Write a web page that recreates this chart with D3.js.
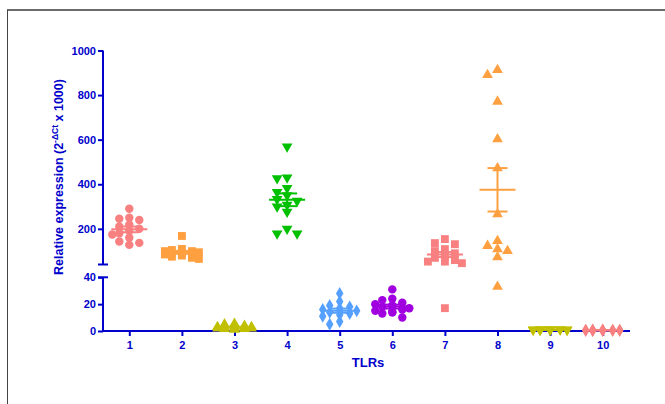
<!DOCTYPE html>
<html>
<head>
<meta charset="utf-8">
<script src="https://cdn.jsdelivr.net/npm/d3@7"></script>
<style>
  body { margin: 0; background: #fff; }
  text { font-family: Arial, "Liberation Sans", sans-serif; font-weight: bold; }
</style>
</head>
<body>
<script>
(function () {
  const groups = ['1', '2', '3', '4', '5', '6', '7', '8', '9', '10']
  const colors = ['#f88080', '#ffa040', '#c0c000', '#00c000', '#55a0ff',
                  '#a000e0', '#f88080', '#ffa040', '#c0c000', '#f88080']
  const shapes = ['circle', 'square', 'triangle', 'down', 'diamond',
                  'circle', 'square', 'triangle', 'down', 'diamond']

  const tlr1 = [290, 250, 240, 245, 218, 210, 200, 190, 180, 160, 143, 128, 137, 175]
  const tlr2 = [168, 110, 105, 100, 95, 92, 90, 88, 85, 80, 75, 70, 100, 65]
  const tlr3 = [5, 5.5, 3, 2, 2.5, 1.5, 1, 2, 3, 1.5, 2, 4, 2.5, 3]
  const tlr4 = [569, 427, 430, 365, 383, 333, 308, 276, 200, 179, 179, 325, 300, 350]
  const tlr5 = [28, 22, 19, 15, 14, 15, 11, 7, 5, 17, 13, 12, 18, 16]
  const tlr6 = [31, 24, 23, 21, 20, 19, 18, 17, 16, 15, 14, 14, 10, 13]
  const tlr7 = [136, 154, 131, 109, 100, 90, 80, 70, 60, 53, 46, 53, 17]
  const tlr8 = [913, 890, 771, 602, 472, 266, 146, 124, 109, 101, 73, 33]
  const tlr9 = [1, 1.2, 0.8, 1, 1.1, 0.9, 1, 1.3, 0.7, 1, 1.2, 0.8]
  const tlr10 = [0.6, 0.5, 0.7, 0.5, 0.6, 0.4, 0.5, 0.7, 0.6, 0.5, 0.4, 0.6]
  const series = [tlr1, tlr2, tlr3, tlr4, tlr5, tlr6, tlr7, tlr8, tlr9, tlr10]

  const upperTicks = [200, 400, 600, 800, 1000]
  const lowerTicks = [0, 20, 40]

  const blue = '#0000cc'
  const svg = d3.select('body').append('svg')
                .attr('width', 665)
                .attr('height', 404)

  // frame
  svg.append('line').attr('x1', 7).attr('y1', 10).attr('x2', 665).attr('y2', 10)
     .attr('stroke', '#6b6b6b').attr('stroke-width', 2)
  svg.append('line').attr('x1', 7.5).attr('y1', 10).attr('x2', 7.5).attr('y2', 404)
     .attr('stroke', '#444').attr('stroke-width', 1)

  const x = d3.scaleLinear().domain([0.5, 10.5]).range([103, 629])
  const yUp = d3.scaleLinear().domain([40, 1000]).range([264.5, 50.5])
  const yLo = d3.scaleLinear().domain([0, 40]).range([331, 277.3])
  const yOf = v => v >= 40 ? yUp(v) : yLo(v)

  // axes
  const axUp = svg.append('g').attr('transform', 'translate(103,0)')
                  .call(d3.axisLeft(yUp).tickValues(upperTicks).tickSize(5).tickPadding(2)
                    .tickFormat(d3.format('d')))
  const axLo = svg.append('g').attr('transform', 'translate(103,0)')
                  .call(d3.axisLeft(yLo).tickValues(lowerTicks).tickSize(5).tickPadding(2))
  const axX = svg.append('g').attr('transform', 'translate(0,331)')
                 .call(d3.axisBottom(x).tickValues(d3.range(1, 11)).tickSize(5).tickPadding(5)
                   .tickFormat((d, i) => groups[i]))
  ;[axUp, axLo, axX].forEach(a => {
    a.selectAll('path').attr('stroke', blue).attr('stroke-width', 2)
    a.selectAll('line').attr('stroke', blue).attr('stroke-width', 2)
    a.selectAll('text').attr('fill', blue).style('font-size', '11px')
     .style('font-family', 'Arial, "Liberation Sans", sans-serif').style('font-weight', 'bold')
  })
  axUp.select('path').attr('d', `M0,${yUp(1000)}V${yUp(40)}`)
  axLo.select('path').attr('d', `M0,${yLo(40)}V${yLo(0)}`)
  axX.select('path').attr('d', 'M103,0H630')
  // break caps
  svg.append('line').attr('x1', 98).attr('x2', 108).attr('y1', yUp(40)).attr('y2', yUp(40))
     .attr('stroke', blue).attr('stroke-width', 2)
  svg.append('line').attr('x1', 98).attr('x2', 108).attr('y1', yLo(40)).attr('y2', yLo(40))
     .attr('stroke', blue).attr('stroke-width', 2)

  // titles
  const yt = svg.append('text')
                .attr('transform', 'translate(63,177) rotate(-90)')
                .attr('text-anchor', 'middle')
                .attr('fill', blue)
                .style('font-size', '12.5px')
  yt.append('tspan').text('Relative expression (2')
  yt.append('tspan').attr('dy', -5).style('font-size', '8.5px').text('-ΔCt')
  yt.append('tspan').attr('dy', 5).text(' x 1000)')

  svg.append('text').attr('x', 368).attr('y', 367).attr('text-anchor', 'middle')
     .attr('fill', blue).style('font-size', '13px').text('TLRs')

  const symbolOf = {
    circle: d3.symbol().type(d3.symbolCircle).size(56),
    square: d3.symbol().type(d3.symbolSquare).size(62),
    triangle: d3.symbol().type(d3.symbolTriangle).size(50),
    down: d3.symbol().type(d3.symbolTriangle).size(50),
    diamond: d3.symbol().type(d3.symbolDiamond).size(48)
  }

  series.forEach((vals, gi) => {
    const cx = x(gi + 1)
    const col = colors[gi]
    // Prism-like scatter: shift sideways a little when points collide
    const placed = []
    const offs = [0, -10, 10, -17, 17]
    vals.slice().sort((a, b) => b - a).forEach(v => {
      const py = yOf(v)
      let best = 0, bestN = Infinity
      for (const o of offs) {
        const n = placed.filter(p => Math.abs(p.x - o) < 7 && Math.abs(p.y - py) < 6).length
        if (n < bestN) { bestN = n; best = o }
        if (n === 0) break
      }
      placed.push({ x: best, y: py })
    })
    const g = svg.append('g')
    g.selectAll('path').data(placed).enter().append('path')
     .attr('d', symbolOf[shapes[gi]]())
     .attr('transform', d => `translate(${cx + d.x},${d.y})` + (shapes[gi] === 'down' ? ' rotate(180)' : ''))
     .attr('fill', col)

    const mean = d3.mean(vals)
    const sem = d3.deviation(vals) / Math.sqrt(vals.length)
    const ym = yOf(mean), yHi = yOf(mean + sem), yLoS = yOf(Math.max(mean - sem, 0))
    g.append('line').attr('x1', cx).attr('x2', cx).attr('y1', yHi).attr('y2', yLoS)
     .attr('stroke', col).attr('stroke-width', 2)
    g.append('line').attr('x1', cx - 18).attr('x2', cx + 18).attr('y1', ym).attr('y2', ym)
     .attr('stroke', col).attr('stroke-width', 2)
    ;[yHi, yLoS].forEach(yy => {
      g.append('line').attr('x1', cx - 10).attr('x2', cx + 10).attr('y1', yy).attr('y2', yy)
       .attr('stroke', col).attr('stroke-width', 2)
    })
  })
})()
</script>
</body>
</html>
